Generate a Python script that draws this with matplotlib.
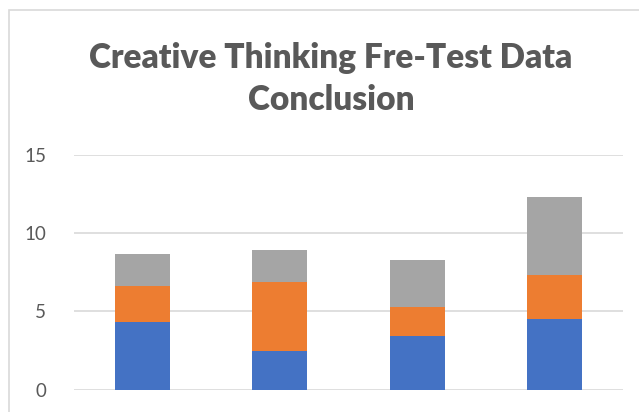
import matplotlib.pyplot as plt
from matplotlib.patches import Rectangle
import numpy as np

# Data
groups = ['Group 1', 'Group 2', 'Group 3', 'Group 4']
series_1 = [4.3, 2.5, 3.45, 4.5]
series_2 = [2.35, 4.4, 1.85, 2.8]
series_3 = [2.05, 2.0, 3.0, 5.0]
yticks = [0, 5, 10, 15]

colors = ['#4472C4', '#ED7D31', '#A5A5A5']
text_color = '#595959'
grid_color = '#D9D9D9'

fig = plt.figure(figsize=(6.39, 4.12), dpi=100)
ax = fig.add_axes([74 / 639, 1 - 389.7 / 412, (623 - 74) / 639, (389.7 - 155) / 412])

x = np.arange(len(groups))
bottom = np.zeros(len(groups))
for vals, c in zip([series_1, series_2, series_3], colors):
    ax.bar(x, vals, width=0.40, bottom=bottom, color=c, zorder=3)
    bottom += np.array(vals)

ax.set_xlim(-0.5, len(groups) - 0.5)
ax.set_ylim(0, 15)
ax.set_yticks(yticks)
ax.set_xticks([])
ax.yaxis.grid(True, color=grid_color, linewidth=1.2, zorder=0)
for s in ax.spines.values():
    s.set_visible(False)
ax.tick_params(axis='y', length=0, pad=20, labelsize=13.5, labelcolor=text_color)
for lbl in ax.get_yticklabels():
    lbl.set_family('Lato')

# chart border
fig.patches.append(Rectangle((9 / 639, -0.1), 1.2, 1 - 10 / 412 + 0.1,
                             transform=fig.transFigure, fill=False,
                             edgecolor='#D9D9D9', linewidth=1.2))

fig.text(0.518, 1 - 58 / 412, 'Creative Thinking Fre-Test Data', ha='center', va='center',
         fontsize=24, fontweight='heavy', color=text_color, family='Lato')
fig.text(0.518, 1 - 100 / 412, 'Conclusion', ha='center', va='center',
         fontsize=24, fontweight='heavy', color=text_color, family='Lato')

fig.savefig('out.png', dpi=100)
